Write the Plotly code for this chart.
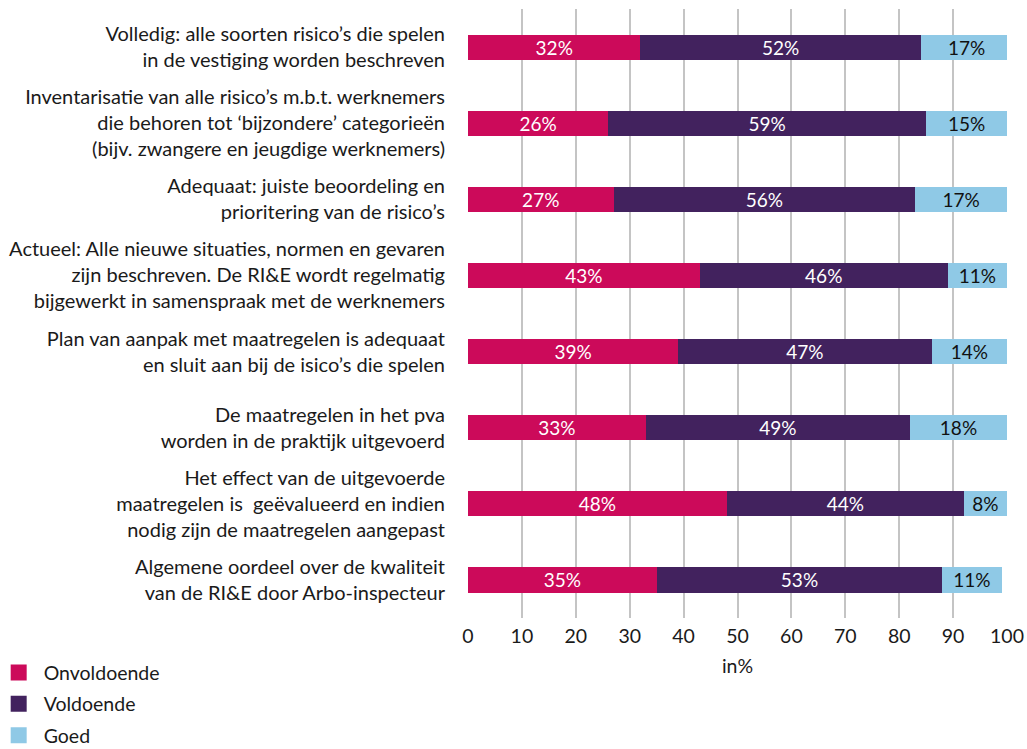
import plotly.graph_objects as go

categories = [
    "Volledig: alle soorten risico’s die spelen<br>in de vestiging worden beschreven",
    "Inventarisatie van alle risico’s m.b.t. werknemers<br>die behoren tot ‘bijzondere’ categorieën<br>(bijv. zwangere en jeugdige werknemers)",
    "Adequaat: juiste beoordeling en<br>prioritering van de risico’s",
    "Actueel: Alle nieuwe situaties, normen en gevaren<br>zijn beschreven. De RI&E wordt regelmatig<br>bijgewerkt in samenspraak met de werknemers",
    "Plan van aanpak met maatregelen is adequaat<br>en sluit aan bij de isico’s die spelen",
    "De maatregelen in het pva<br>worden in de praktijk uitgevoerd",
    "Het effect van de uitgevoerde<br>maatregelen is  geëvalueerd en indien<br>nodig zijn de maatregelen aangepast",
    "Algemene oordeel over de kwaliteit<br>van de RI&E door Arbo-inspecteur",
]
onvoldoende = [32, 26, 27, 43, 39, 33, 48, 35]
voldoende = [52, 59, 56, 46, 47, 49, 44, 53]
goed = [17, 15, 17, 11, 14, 18, 8, 11]
series_names = ["Onvoldoende", "Voldoende", "Goed"]
tick_values = [0, 10, 20, 30, 40, 50, 60, 70, 80, 90, 100]

colors = ["#CC0A5A", "#42225E", "#8FC9E6"]
text_colors = ["white", "white", "#111111"]
FONT = "Lato"
FS = 19.5

fig = go.Figure()
for name, vals, col, tcol in zip(series_names, [onvoldoende, voldoende, goed], colors, text_colors):
    fig.add_trace(go.Bar(
        y=categories, x=vals, name=name, orientation="h",
        marker=dict(color=col, line=dict(width=0)),
        text=[f"{v}%" for v in vals], textposition="inside", insidetextanchor="middle",
        constraintext="none",
        textfont=dict(color=tcol, size=19, family=FONT),
        showlegend=False, hoverinfo="skip",
    ))
    fig.add_trace(go.Scatter(
        x=[None], y=[None], mode="markers", name=name,
        marker=dict(symbol="square", size=17, color=col),
        legendgroup=name,
    ))

fig.update_layout(
    width=1027, height=749,
    margin=dict(l=468, r=20, t=9, b=131, autoexpand=False),
    barmode="stack", bargap=0.67,
    plot_bgcolor="white", paper_bgcolor="white",
    font=dict(family=FONT, size=FS, color="#1a1a1a"),
    legend=dict(
        x=-0.88, y=-0.058, xanchor="left", yanchor="top",
        orientation="v", traceorder="grouped", tracegroupgap=3,
        font=dict(size=FS, family=FONT), itemwidth=40,
    ),
    showlegend=True,
)
fig.update_xaxes(
    range=[0, 100], tickvals=tick_values, showgrid=True,
    gridcolor="#C4C4C4", gridwidth=1.5, zeroline=False,
    showline=False, ticks="", tickfont=dict(size=FS), ticklabelstandoff=4,
    title=dict(text="in%", font=dict(size=FS), standoff=13),
)
fig.update_yaxes(
    autorange="reversed", showgrid=False, ticks="", ticklabelstandoff=22,
    tickfont=dict(size=20),
)
fig.write_html(
    "out.html",
    config={"displayModeBar": False},
    post_script="document.body.style.margin='0';document.body.style.overflow='hidden';",
)
